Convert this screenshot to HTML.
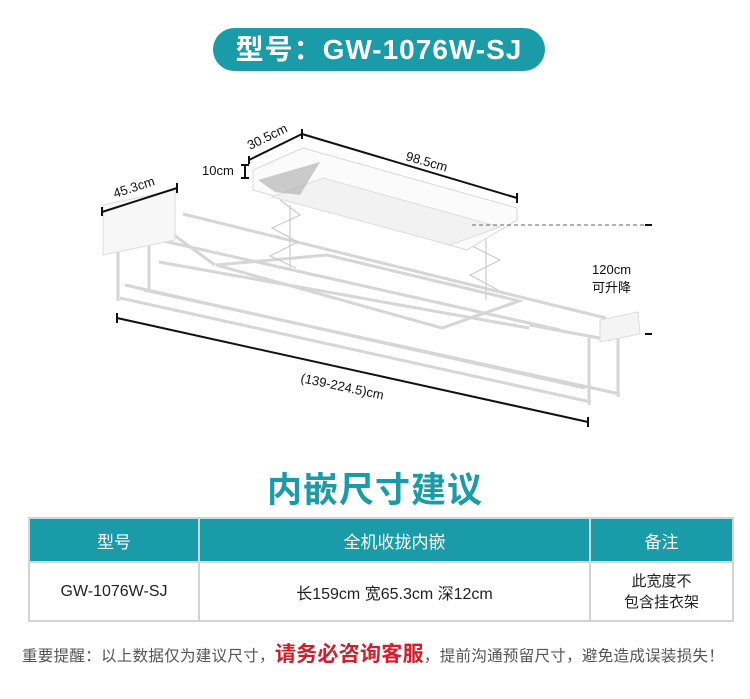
<!DOCTYPE html>
<html><head><meta charset="utf-8"><style>
body{margin:0;width:750px;height:699px;background:#fff;position:relative;overflow:hidden;font-family:"Liberation Sans","Noto Sans CJK SC",sans-serif}
.pill{position:absolute;left:213px;top:28px;width:332px;height:43px;border-radius:22px;background:#1a9ba8;color:#fff;font-size:28px;font-weight:bold;text-align:center;line-height:43px;letter-spacing:1px}
.h{position:absolute;left:0;width:750px;top:462px;text-align:center;color:#1a9ba8;font-size:35px;font-weight:bold;letter-spacing:1px}
table{position:absolute;left:28px;top:517px;width:706px;table-layout:fixed;border-collapse:collapse;border:2px solid #d4d4d4}
td{border:2px solid #d4d4d4;text-align:center;color:#222;font-size:16px}
tr.hd td{background:#1a9ba8;color:#fff;height:40px;font-size:17px}
tr.r td{height:55px}
.note{position:absolute;left:22px;top:638px;font-size:15.5px;color:#555;white-space:nowrap;letter-spacing:0.3px}
.note b{color:#d41d28;font-size:21px}
</style></head><body>
<div class="pill">型号：GW-1076W-SJ</div>
<svg width="750" height="460" style="position:absolute;left:0;top:0" font-family="Liberation Sans, sans-serif">
<g stroke="#d6d6d6" stroke-width="3" fill="none">
<line x1="183" y1="214" x2="606" y2="318"/>
<line x1="159" y1="262" x2="529" y2="328"/>
<line x1="120" y1="298" x2="591" y2="402"/>
<line x1="144" y1="290" x2="620" y2="394"/>
<line x1="150" y1="238" x2="560" y2="330"/>
<line x1="125" y1="285" x2="585" y2="388"/>
<line x1="118" y1="229" x2="118" y2="301"/>
<line x1="149" y1="206" x2="149" y2="291"/>
<line x1="589" y1="338" x2="589" y2="405"/>
<line x1="618" y1="338" x2="618" y2="397"/>
<polygon points="216,265 327,255 519,301 442,328"/>
<line x1="160" y1="225" x2="215" y2="265"/>
<line x1="530" y1="325" x2="610" y2="340"/>
</g>
<g stroke="#ccc" stroke-width="1.2" fill="none">
<polyline points="280,200 300,215 272,228 298,242 270,256 296,268"/>
<polyline points="495,228 470,245 500,260 470,275 498,290"/>
<line x1="290" y1="205" x2="290" y2="270"/><line x1="486" y1="235" x2="486" y2="300"/>
</g>
<polygon points="103,205 175,190 175,240 103,255" fill="#f7f7f7" stroke="#ddd"/>
<polygon points="600,320 638,312 640,334 600,342" fill="#f4f4f4" stroke="#ddd"/>
<polygon points="253,170 303,148 517,208 517,220 467,250 253,190" fill="#fbfbfb" stroke="#d8d8d8"/>
<polygon points="272,197 323,178 500,227 450,245" fill="#f2f2f2" stroke="#ddd"/>
<polygon points="258,180 320,162 300,195 275,192" fill="#aaa" opacity=".6"/>
<g stroke="#111" stroke-width="2">
<line x1="249" y1="160" x2="302" y2="134"/><line x1="302" y1="134" x2="517" y2="198"/>
<line x1="102" y1="212" x2="177" y2="188"/><line x1="117" y1="318" x2="588" y2="422"/>
<line x1="102" y1="207" x2="102" y2="216"/><line x1="177" y1="183" x2="177" y2="193"/>
<line x1="249" y1="156" x2="249" y2="164"/><line x1="302" y1="129" x2="302" y2="139"/>
<line x1="517" y1="193" x2="517" y2="203"/><line x1="117" y1="313" x2="117" y2="323"/><line x1="588" y1="417" x2="588" y2="427"/>
<line x1="245" y1="165" x2="245" y2="178"/><line x1="241" y1="165" x2="249" y2="165"/><line x1="241" y1="178" x2="249" y2="178"/>
<line x1="645" y1="225" x2="652" y2="225"/><line x1="645" y1="334" x2="652" y2="334"/>
</g>
<line x1="472" y1="225" x2="645" y2="225" stroke="#666" stroke-dasharray="4,3"/>
<g font-size="13" fill="#111">
<text x="250" y="150" transform="rotate(-26 250 150)">30.5cm</text>
<text x="405" y="160" transform="rotate(16 405 160)">98.5cm</text>
<text x="115" y="198" transform="rotate(-18 115 198)">45.3cm</text>
<text x="202" y="175">10cm</text>
<text x="300" y="382" transform="rotate(12 300 382)">(139-224.5)cm</text>
<text x="592" y="274">120cm</text>
<text x="592" y="292" font-family="Noto Sans CJK SC, sans-serif">可升降</text>
</g>
</svg>
<div class="h">内嵌尺寸建议</div>
<table>
<tr class="hd"><td style="width:166px">型号</td><td style="width:387px">全机收拢内嵌</td><td>备注</td></tr>
<tr class="r"><td>GW-1076W-SJ</td><td>长159cm 宽65.3cm 深12cm</td><td style="font-size:15px;line-height:21px">此宽度不<br>包含挂衣架</td></tr>
</table>
<div class="note">重要提醒：以上数据仅为建议尺寸，<b>请务必咨询客服</b>，提前沟通预留尺寸，避免造成误装损失！</div>
</body></html>
